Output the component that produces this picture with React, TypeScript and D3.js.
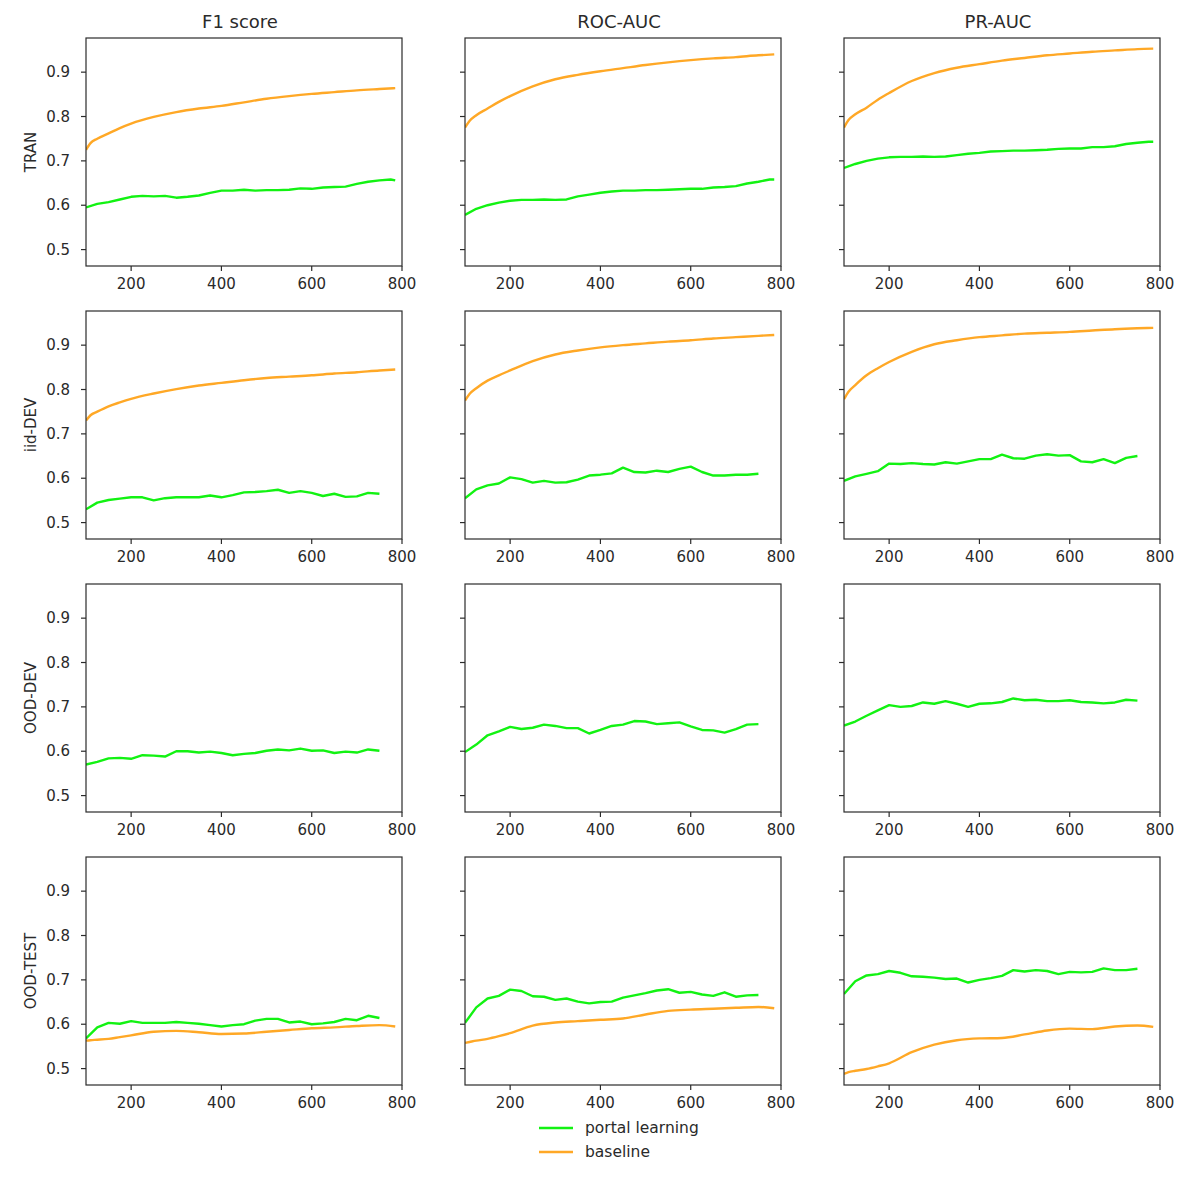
import { useEffect } from "react";
import * as d3 from "d3";

// ---------------------------------------------------------------------------
// Data
// ---------------------------------------------------------------------------

const METRICS = ["F1 score", "ROC-AUC", "PR-AUC"];
const SPLITS = ["TRAN", "iid-DEV", "OOD-DEV", "OOD-TEST"];
const X_TICKS = [200, 400, 600, 800];
const Y_TICKS = [0.5, 0.6, 0.7, 0.8, 0.9];

const BASELINE_STEPS = [100, 110, 125, 150, 175, 200, 250, 300, 350, 400, 450, 500, 550, 600, 650, 700, 750, 785];
const PORTAL_STEPS = [
  100, 125, 150, 175, 200, 225, 250, 275, 300, 325, 350, 375, 400, 425, 450, 475, 500, 525, 550, 575, 600, 625,
  650, 675, 700, 725, 750,
];
const PORTAL_STEPS_TRAN = [...PORTAL_STEPS, 775, 785];

// TRAN
const TRAN_F1_PORTAL = [
  0.595, 0.603, 0.607, 0.613, 0.619, 0.621, 0.62, 0.621, 0.617, 0.619, 0.622, 0.628, 0.633, 0.633, 0.635, 0.633,
  0.634, 0.634, 0.635, 0.638, 0.637, 0.64, 0.641, 0.642, 0.648, 0.653, 0.656, 0.658, 0.656,
];
const TRAN_F1_BASE = [
  0.725, 0.74, 0.75, 0.762, 0.774, 0.784, 0.799, 0.81, 0.818, 0.824, 0.832, 0.84, 0.846, 0.851, 0.855, 0.859, 0.862,
  0.864,
];
const TRAN_ROC_PORTAL = [
  0.578, 0.592, 0.6, 0.606, 0.61, 0.612, 0.612, 0.613, 0.612, 0.613, 0.62, 0.624, 0.628, 0.631, 0.633, 0.633, 0.634,
  0.634, 0.635, 0.636, 0.637, 0.637, 0.64, 0.641, 0.643, 0.649, 0.653, 0.658, 0.658,
];
const TRAN_ROC_BASE = [
  0.775, 0.79, 0.803, 0.818, 0.833, 0.846, 0.868, 0.884, 0.894, 0.902, 0.909, 0.916, 0.922, 0.927, 0.931, 0.934,
  0.938, 0.94,
];
const TRAN_PR_PORTAL = [
  0.684, 0.693, 0.7, 0.705, 0.708, 0.709, 0.709, 0.71, 0.709, 0.71, 0.713, 0.716, 0.718, 0.721, 0.722, 0.723, 0.723,
  0.724, 0.725, 0.727, 0.728, 0.728, 0.731, 0.731, 0.733, 0.738, 0.741, 0.743, 0.743,
];
const TRAN_PR_BASE = [
  0.775, 0.792, 0.805, 0.82, 0.838, 0.853, 0.88, 0.898, 0.91, 0.918, 0.926, 0.932, 0.938, 0.942, 0.946, 0.949, 0.952,
  0.953,
];

// iid-DEV
const IID_F1_PORTAL = [
  0.53, 0.545, 0.551, 0.554, 0.557, 0.557, 0.55, 0.555, 0.557, 0.557, 0.557, 0.561, 0.557, 0.562, 0.568, 0.569, 0.571,
  0.574, 0.567, 0.571, 0.567, 0.56, 0.565, 0.558, 0.559, 0.567, 0.565,
];
const IID_F1_BASE = [
  0.73, 0.742, 0.75, 0.762, 0.771, 0.779, 0.791, 0.801, 0.809, 0.815, 0.821, 0.826, 0.829, 0.832, 0.836, 0.839, 0.843,
  0.845,
];
const IID_ROC_PORTAL = [
  0.555, 0.575, 0.584, 0.588, 0.602, 0.598, 0.59, 0.594, 0.59, 0.591, 0.597, 0.606, 0.608, 0.611, 0.624, 0.614, 0.613,
  0.617, 0.614, 0.621, 0.626, 0.614, 0.606, 0.606, 0.608, 0.608, 0.61,
];
const IID_ROC_BASE = [
  0.775, 0.79, 0.803, 0.82, 0.832, 0.843, 0.864, 0.879, 0.888, 0.895, 0.9, 0.904, 0.908, 0.911, 0.915, 0.918, 0.921,
  0.923,
];
const IID_PR_PORTAL = [
  0.594, 0.604, 0.61, 0.616, 0.633, 0.632, 0.634, 0.632, 0.631, 0.636, 0.633, 0.638, 0.643, 0.643, 0.653, 0.645, 0.644,
  0.651, 0.654, 0.651, 0.652, 0.638, 0.636, 0.643, 0.634, 0.646, 0.65,
];
const IID_PR_BASE = [
  0.778, 0.795, 0.81, 0.832, 0.848, 0.862, 0.885, 0.902, 0.911, 0.918, 0.922, 0.926, 0.928, 0.93, 0.933, 0.936, 0.938,
  0.939,
];

// OOD-DEV (portal learning only)
const OODDEV_F1_PORTAL = [
  0.57, 0.576, 0.584, 0.585, 0.583, 0.591, 0.59, 0.588, 0.6, 0.6, 0.597, 0.599, 0.596, 0.591, 0.594, 0.596, 0.601,
  0.604, 0.602, 0.606, 0.601, 0.602, 0.596, 0.599, 0.597, 0.604, 0.601,
];
const OODDEV_ROC_PORTAL = [
  0.598, 0.615, 0.636, 0.645, 0.655, 0.65, 0.653, 0.66, 0.657, 0.652, 0.652, 0.64, 0.648, 0.657, 0.66, 0.668, 0.667,
  0.661, 0.663, 0.665, 0.656, 0.648, 0.647, 0.642, 0.65, 0.66, 0.661,
];
const OODDEV_PR_PORTAL = [
  0.658, 0.667, 0.68, 0.692, 0.704, 0.7, 0.702, 0.71, 0.707, 0.713, 0.707, 0.7, 0.707, 0.708, 0.711, 0.719, 0.715,
  0.716, 0.713, 0.713, 0.715, 0.711, 0.71, 0.708, 0.71, 0.716, 0.714,
];

// OOD-TEST
const OODTEST_F1_PORTAL = [
  0.568, 0.593, 0.603, 0.601, 0.607, 0.603, 0.603, 0.603, 0.605, 0.603, 0.601, 0.598, 0.595, 0.598, 0.6, 0.608, 0.612,
  0.612, 0.604, 0.606, 0.6, 0.602, 0.605, 0.612, 0.609, 0.619, 0.614,
];
const OODTEST_F1_BASE = [
  0.563, 0.564, 0.565, 0.567, 0.571, 0.575, 0.583, 0.585, 0.582, 0.578, 0.579, 0.583, 0.587, 0.591, 0.593, 0.596, 0.598,
  0.595,
];
const OODTEST_ROC_PORTAL = [
  0.603, 0.638, 0.658, 0.664, 0.678, 0.675, 0.663, 0.662, 0.655, 0.658, 0.651, 0.647, 0.65, 0.651, 0.66, 0.665, 0.67,
  0.676, 0.679, 0.671, 0.673, 0.667, 0.664, 0.672, 0.662, 0.665, 0.666,
];
const OODTEST_ROC_BASE = [
  0.558, 0.56, 0.563, 0.567, 0.573, 0.58, 0.597, 0.604, 0.607, 0.61, 0.613, 0.622, 0.63, 0.633, 0.635, 0.637, 0.639,
  0.636,
];
const OODTEST_PR_PORTAL = [
  0.668, 0.697, 0.71, 0.713, 0.72, 0.716, 0.708, 0.707, 0.705, 0.702, 0.703, 0.694, 0.7, 0.704, 0.709, 0.722, 0.719,
  0.722, 0.72, 0.713, 0.718, 0.717, 0.718, 0.726, 0.722, 0.722, 0.725,
];
const OODTEST_PR_BASE = [
  0.488, 0.492, 0.495, 0.499, 0.505, 0.512, 0.537, 0.554, 0.564, 0.568, 0.569, 0.577, 0.586, 0.59, 0.589, 0.595, 0.597,
  0.594,
];

// ---------------------------------------------------------------------------
// Palette / layout
// ---------------------------------------------------------------------------

const PORTAL_COLOR = "#12f212";
const BASE_COLOR = "#ffa826";
const FRAME = "#2b2b2b";
const TEXT = "#2a2a2a";
const FONT = "'DejaVu Sans', Verdana, sans-serif";

const WIDTH = 1196;
const HEIGHT = 1192;
const COL_X = [86, 465, 844];
const ROW_Y = [38, 311, 584, 857];
const PANEL_W = 316;
const PANEL_H = 228;
const X_DOMAIN: [number, number] = [100, 800];
const Y_DOMAIN: [number, number] = [0.463, 0.977];

type Series = { steps: number[]; values: number[] };
type Panel = { portal: Series; base: Series | null };

const PANELS: Panel[][] = [
  [
    { portal: { steps: PORTAL_STEPS_TRAN, values: TRAN_F1_PORTAL }, base: { steps: BASELINE_STEPS, values: TRAN_F1_BASE } },
    { portal: { steps: PORTAL_STEPS_TRAN, values: TRAN_ROC_PORTAL }, base: { steps: BASELINE_STEPS, values: TRAN_ROC_BASE } },
    { portal: { steps: PORTAL_STEPS_TRAN, values: TRAN_PR_PORTAL }, base: { steps: BASELINE_STEPS, values: TRAN_PR_BASE } },
  ],
  [
    { portal: { steps: PORTAL_STEPS, values: IID_F1_PORTAL }, base: { steps: BASELINE_STEPS, values: IID_F1_BASE } },
    { portal: { steps: PORTAL_STEPS, values: IID_ROC_PORTAL }, base: { steps: BASELINE_STEPS, values: IID_ROC_BASE } },
    { portal: { steps: PORTAL_STEPS, values: IID_PR_PORTAL }, base: { steps: BASELINE_STEPS, values: IID_PR_BASE } },
  ],
  [
    { portal: { steps: PORTAL_STEPS, values: OODDEV_F1_PORTAL }, base: null },
    { portal: { steps: PORTAL_STEPS, values: OODDEV_ROC_PORTAL }, base: null },
    { portal: { steps: PORTAL_STEPS, values: OODDEV_PR_PORTAL }, base: null },
  ],
  [
    { portal: { steps: PORTAL_STEPS, values: OODTEST_F1_PORTAL }, base: { steps: BASELINE_STEPS, values: OODTEST_F1_BASE } },
    { portal: { steps: PORTAL_STEPS, values: OODTEST_ROC_PORTAL }, base: { steps: BASELINE_STEPS, values: OODTEST_ROC_BASE } },
    { portal: { steps: PORTAL_STEPS, values: OODTEST_PR_PORTAL }, base: { steps: BASELINE_STEPS, values: OODTEST_PR_BASE } },
  ],
];

const xScale = d3.scaleLinear().domain(X_DOMAIN).range([0, PANEL_W]);
const yScale = d3.scaleLinear().domain(Y_DOMAIN).range([PANEL_H, 0]);

const toPoints = (s: Series) => s.steps.map((x, i) => [x, s.values[i]] as [number, number]);

const jaggedLine = d3
  .line<[number, number]>()
  .x((d) => xScale(d[0]))
  .y((d) => yScale(d[1]));

const smoothLine = d3
  .line<[number, number]>()
  .x((d) => xScale(d[0]))
  .y((d) => yScale(d[1]))
  .curve(d3.curveMonotoneX);

// ---------------------------------------------------------------------------
// Component
// ---------------------------------------------------------------------------

function SubPlot({ panel, row, col }: { panel: Panel; row: number; col: number }) {
  return (
    <g transform={`translate(${COL_X[col]},${ROW_Y[row]})`}>
      <defs>
        <clipPath id={`clip-${row}-${col}`}>
          <rect x={0} y={0} width={PANEL_W} height={PANEL_H} />
        </clipPath>
      </defs>

      <g clipPath={`url(#clip-${row}-${col})`}>
        <path
          d={jaggedLine(toPoints(panel.portal)) ?? ""}
          fill="none"
          stroke={PORTAL_COLOR}
          strokeWidth={2.4}
          strokeLinejoin="round"
        />
        {panel.base && (
          <path
            d={smoothLine(toPoints(panel.base)) ?? ""}
            fill="none"
            stroke={BASE_COLOR}
            strokeWidth={2.4}
            strokeLinejoin="round"
          />
        )}
      </g>

      {/* frame */}
      <rect x={0} y={0} width={PANEL_W} height={PANEL_H} fill="none" stroke={FRAME} strokeWidth={1.2} />

      {/* y ticks */}
      {Y_TICKS.map((t) => (
        <g key={`y${t}`} transform={`translate(0,${yScale(t)})`}>
          <line x1={-5} x2={0} stroke={FRAME} strokeWidth={1.2} />
          {col === 0 && (
            <text x={-16} dy="0.35em" textAnchor="end" fontSize={15} fontFamily={FONT} fill={TEXT}>
              {t.toFixed(1)}
            </text>
          )}
        </g>
      ))}

      {/* x ticks */}
      {X_TICKS.map((t) => (
        <g key={`x${t}`} transform={`translate(${xScale(t)},${PANEL_H})`}>
          <line y1={0} y2={5} stroke={FRAME} strokeWidth={1.2} />
          <text y={23} textAnchor="middle" fontSize={15} fontFamily={FONT} fill={TEXT}>
            {t}
          </text>
        </g>
      ))}

      {row === 0 && (
        <text x={PANEL_W / 2 - 4} y={-10} textAnchor="middle" fontSize={18} fontFamily={FONT} fill={TEXT}>
          {METRICS[col]}
        </text>
      )}

      {col === 0 && (
        <text
          transform={`translate(-50,${PANEL_H / 2}) rotate(-90)`}
          textAnchor="middle"
          fontSize={15}
          fontFamily={FONT}
          fill={TEXT}
        >
          {SPLITS[row]}
        </text>
      )}
    </g>
  );
}

export default function App() {
  useEffect(() => {
    document.body.style.margin = "0";
  }, []);

  const legend = [
    { label: "portal learning", color: PORTAL_COLOR },
    { label: "baseline", color: BASE_COLOR },
  ];

  return (
    <svg width={WIDTH} height={HEIGHT} style={{ display: "block", background: "#fff" }}>
      {PANELS.map((rowPanels, r) =>
        rowPanels.map((p, c) => <SubPlot key={`${r}-${c}`} panel={p} row={r} col={c} />),
      )}

      {/* legend */}
      {legend.map((l, i) => (
        <g key={l.label} transform={`translate(539,${1128 + i * 24})`}>
          <line x1={0} x2={34} stroke={l.color} strokeWidth={2.4} />
          <text x={46} dy="0.35em" fontSize={15.5} fontFamily={FONT} fill={TEXT}>
            {l.label}
          </text>
        </g>
      ))}
    </svg>
  );
}
